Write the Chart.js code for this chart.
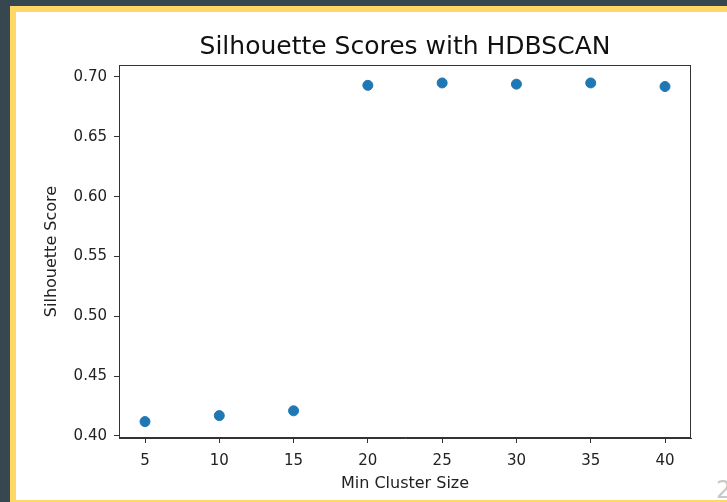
<!DOCTYPE html>
<html>
<head>
<meta charset="utf-8">
<script src="https://cdn.jsdelivr.net/npm/chart.js@4.4.0/dist/chart.umd.min.js"></script>
<style>
  html, body { margin: 0; padding: 0; }
  body { width: 727px; height: 502px; background: #36474f; position: relative; overflow: hidden; }
  #frame {
    position: absolute; left: 10px; top: 6px; width: 740px; height: 496px;
    background: #fff; border-left: 6px solid #fed766; border-top: 6px solid #fed766;
    border-bottom: 2px solid #fed766; box-sizing: border-box;
  }
  #pagenum { position: absolute; left: 716px; top: 476px; font: 24px "DejaVu Sans"; color: #c8c8c8; }
  #chart { position: absolute; left: 0; top: 0; }
</style>
</head>
<body>
<div id="frame"></div>
<div id="pagenum">2</div>
<canvas id="chart" width="727" height="502"></canvas>
<script>
const clusterSize = [5, 10, 15, 20, 25, 30, 35, 40];
const scores = [0.412, 0.417, 0.421, 0.693, 0.695, 0.694, 0.695, 0.692];
const xTicks = [5, 10, 15, 20, 25, 30, 35, 40];
const yTicks = [0.40, 0.45, 0.50, 0.55, 0.60, 0.65, 0.70];

const axisColor = '#333';
const font = 'DejaVu Sans';

// box around the plot, like matplotlib spines
const frameBox = {
    id: 'frameBox',
    afterDraw(chart) {
        const a = chart.chartArea;
        const ctx = chart.ctx;
        ctx.save();
        ctx.strokeStyle = axisColor;
        ctx.lineWidth = 1;
        ctx.strokeRect(a.left + 0.5, a.top + 0.5, a.right - a.left - 1, a.bottom - a.top - 1);
        ctx.restore();
    }
};

const ctx = document.getElementById('chart').getContext('2d');
const myChart = new Chart(ctx, {
    type: 'scatter',
    data: {
        datasets: [{
            data: clusterSize.map((x, i) => ({x: x, y: scores[i]})),
            backgroundColor: '#1f77b4',
            borderColor: '#1f77b4',
            pointRadius: 5,
            pointHoverRadius: 5
        }]
    },
    options: {
        responsive: false,
        animation: false,
        layout: { padding: { left: 0, right: 36, top: 0, bottom: 0 } },
        plugins: {
            legend: { display: false },
            tooltip: { enabled: false },
            title: {
                display: true,
                fullSize: false,
                text: 'Silhouette Scores with HDBSCAN',
                color: '#111',
                font: { family: font, size: 25, weight: 'normal' },
                padding: { top: 32, bottom: 3 }
            }
        },
        scales: {
            x: {
                type: 'linear',
                min: 3.25,
                max: 41.75,
                afterBuildTicks: axis => { axis.ticks = xTicks.map(v => ({value: v})); },
                afterFit: axis => { axis.height = 64; },
                grid: { drawOnChartArea: false, tickLength: 5, color: axisColor },
                border: { color: axisColor },
                ticks: { color: '#222', padding: 9, font: { family: font, size: 15 } },
                title: {
                    display: true,
                    text: 'Min Cluster Size',
                    color: '#222',
                    font: { family: font, size: 16 },
                    padding: { top: 0, bottom: 9 }
                }
            },
            y: {
                min: 0.3983,
                max: 0.710,
                afterBuildTicks: axis => { axis.ticks = yTicks.map(v => ({value: v})); },
                afterFit: axis => { axis.width = 119; },
                grid: { drawOnChartArea: false, tickLength: 5, color: axisColor },
                border: { color: axisColor },
                ticks: {
                    color: '#222', padding: 7,
                    font: { family: font, size: 15 },
                    callback: v => v.toFixed(2)
                },
                title: {
                    display: true,
                    text: 'Silhouette Score',
                    color: '#222',
                    font: { family: font, size: 16 },
                    padding: { top: 42, bottom: 0 }
                }
            }
        }
    },
    plugins: [frameBox]
});
</script>
</body>
</html>
